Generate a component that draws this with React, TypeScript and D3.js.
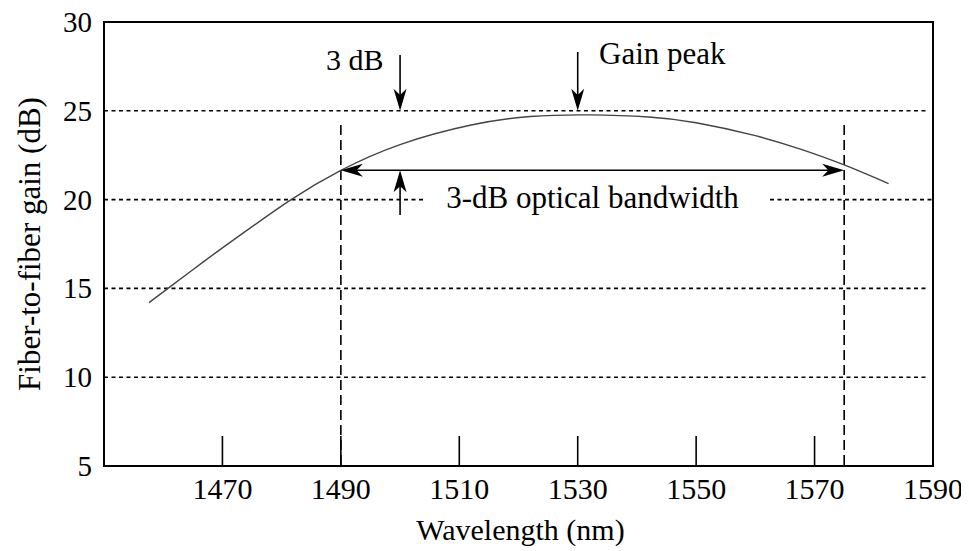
import React from "react";
import * as d3 from "d3";

const wavelengths = [1457.6, 1460.8, 1467, 1473, 1481.6, 1490, 1500, 1512, 1522, 1532, 1542, 1550, 1560, 1568, 1575, 1582.5];
const gains = [14.2, 15.0, 16.55, 18.0, 20.0, 21.65, 23.1, 24.2, 24.68, 24.77, 24.65, 24.33, 23.6, 22.8, 21.95, 20.9];
const xTicks = [1470, 1490, 1510, 1530, 1550, 1570, 1590];
const xTickMarks = [1470, 1490, 1510, 1530, 1550, 1570];
const yTicks = [5, 10, 15, 20, 25, 30];
const gridValues = [25, 20, 15, 10];
const bandEdges = [1490, 1575];
const bandLevel = 21.65;
const peakWl = 1530;
const threeDbWl = 1500;

const W = 969, H = 551;
const M = { left: 104, right: 933, top: 22, bottom: 466 };

function Arrowhead({ x, y, dir, len = 22, half = 6.5 }: { x: number; y: number; dir: "up" | "down" | "left" | "right"; len?: number; half?: number }) {
  const notch = len * 0.72;
  const d = `M0,0 L${-len},${-half} L${-notch},0 L${-len},${half} Z`;
  const rot = { right: 0, down: 90, left: 180, up: -90 }[dir];
  return <path d={d} transform={`translate(${x},${y}) rotate(${rot})`} fill="#000" />;
}

function T(props: any) {
  const { children, ...rest } = props;
  return <text {...rest} fontFamily="Liberation Serif" style={{ fontFamily: "Liberation Serif" }}>{children}</text>;
}

export default function App() {
  const x = d3.scaleLinear().domain([1450, 1590]).range([M.left, M.right]);
  const y = d3.scaleLinear().domain([5, 30]).range([M.bottom, M.top]);
  const pts = wavelengths.map((w, i) => [w, gains[i]] as [number, number]);
  const line = d3.line<[number, number]>().x(d => x(d[0])).y(d => y(d[1])).curve(d3.curveNatural);

  const textStart = 443, textEnd = 742;
  const bandY = y(bandLevel);

  return (
    <svg width={W} height={H} style={{ display: "block", marginLeft: -8, marginTop: -8 }}>
      <style>{`text { font-family: "Liberation Serif", "Times New Roman", serif !important; }`}</style>
      {gridValues.map(v =>
        v === 20 ? (
          <g key={v}>
            <line x1={M.left} x2={425} y1={y(v)} y2={y(v)} stroke="#000" strokeWidth={1.6} strokeDasharray="4,3.5" />
            <line x1={770} x2={M.right} y1={y(v)} y2={y(v)} stroke="#000" strokeWidth={1.6} strokeDasharray="4,3.5" />
          </g>
        ) : (
          <line key={v} x1={M.left} x2={928} y1={y(v)} y2={y(v)} stroke="#000" strokeWidth={1.6} strokeDasharray="4,3.5" />
        )
      )}
      {bandEdges.map(b => (
        <line key={b} x1={x(b)} x2={x(b)} y1={125} y2={M.bottom} stroke="#000" strokeWidth={1.6} strokeDasharray="10,5" />
      ))}
      {xTickMarks.map(t => (
        <line key={t} x1={x(t)} x2={x(t)} y1={M.bottom} y2={M.bottom - 30} stroke="#000" strokeWidth={1.6} />
      ))}
      <path d={line(pts) || ""} fill="none" stroke="#444" strokeWidth={1.4} />
      <rect x={M.left} y={M.top} width={M.right - M.left} height={M.bottom - M.top} fill="none" stroke="#000" strokeWidth={2} />
      {yTicks.map(t => (
        <T key={t} x={92} y={y(t) + 10} textAnchor="end" fontSize={29}>{t}</T>
      ))}
      {xTicks.map(t => (
        <T key={t} x={x(t)} y={499} textAnchor="middle" fontSize={30}>{t}</T>
      ))}
      <T transform={`translate(40,${(M.top + M.bottom) / 2}) rotate(-90)`} textAnchor="middle" fontSize={31}>Fiber-to-fiber gain (dB)</T>
      <T x={(M.left + M.right) / 2 + 2} y={540} textAnchor="middle" fontSize={30}>Wavelength (nm)</T>
      <line x1={x(bandEdges[0]) + 8} x2={x(bandEdges[1]) - 8} y1={bandY} y2={bandY} stroke="#000" strokeWidth={1.6} />
      <Arrowhead x={x(bandEdges[0])} y={bandY} dir="left" />
      <Arrowhead x={x(bandEdges[1])} y={bandY} dir="right" />
      <line x1={x(threeDbWl)} x2={x(threeDbWl)} y1={55} y2={y(25) - 10} stroke="#000" strokeWidth={1.6} />
      <Arrowhead x={x(threeDbWl)} y={y(25)} dir="down" />
      <line x1={x(threeDbWl)} x2={x(threeDbWl)} y1={215} y2={bandY + 10} stroke="#000" strokeWidth={1.6} />
      <Arrowhead x={x(threeDbWl)} y={bandY} dir="up" />
      <line x1={x(peakWl)} x2={x(peakWl)} y1={52} y2={y(25) - 10} stroke="#000" strokeWidth={1.6} />
      <Arrowhead x={x(peakWl)} y={y(25)} dir="down" />
      <T x={326} y={70} fontSize={30}>3 dB</T>
      <T x={599} y={64} fontSize={31}>Gain peak</T>
      <T x={(textStart + textEnd) / 2} y={208} textAnchor="middle" fontSize={31}>3-dB optical bandwidth</T>
    </svg>
  );
}
